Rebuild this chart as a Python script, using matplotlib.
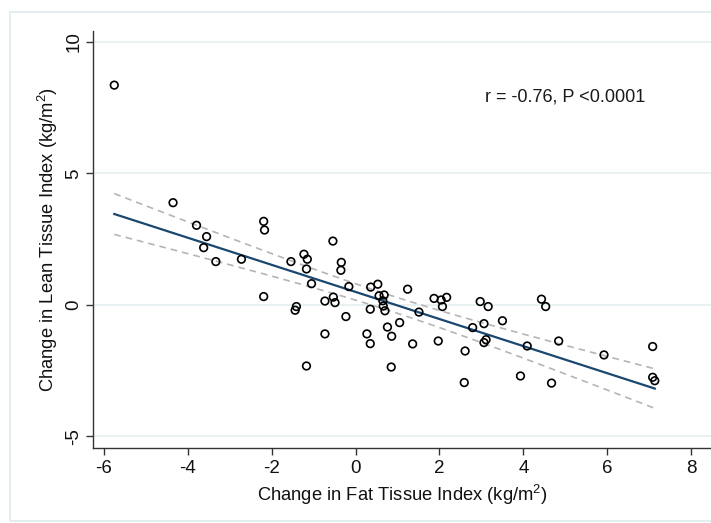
import numpy as np
import matplotlib
matplotlib.use("Agg")
import matplotlib.pyplot as plt
from matplotlib.patches import Rectangle

plt.rcParams['font.family'] = ['Liberation Sans', 'DejaVu Sans']
plt.rcParams['axes.unicode_minus'] = False
plt.rcParams['mathtext.fontset'] = 'custom'
plt.rcParams['mathtext.rm'] = 'Liberation Sans'
plt.rcParams['mathtext.default'] = 'rm'

# change in fat tissue index vs change in lean tissue index (kg/m2)
fat_change = [-5.75, -4.35, -3.79, -3.55, -3.62, -3.33, -2.72, -2.19, -2.17, -2.19,
              -1.54, -1.23, -1.15, -1.17, -1.05, -1.41, -1.44, -1.17, -0.54, -0.34,
              -0.35, -0.16, -0.73, -0.53, -0.49, -0.23, -0.73, 0.27, 0.35, 0.36,
              0.53, 0.35, 0.56, 0.68, 0.65, 0.66, 0.70, 0.76, 0.86, 0.85,
              1.05, 1.24, 1.51, 1.36, 1.87, 2.04, 2.17, 2.07, 1.97, 2.97,
              3.16, 2.79, 3.06, 3.50, 3.06, 3.11, 2.61, 2.59, 3.93, 4.43,
              4.53, 4.09, 4.84, 4.67, 5.92, 7.08, 7.08, 7.13]
lean_change = [8.36, 3.89, 3.03, 2.60, 2.18, 1.65, 1.74, 3.18, 2.85, 0.32,
               1.65, 1.93, 1.74, 1.37, 0.81, -0.06, -0.20, -2.32, 2.43, 1.62,
               1.32, 0.70, 0.15, 0.30, 0.09, -0.44, -1.10, -1.10, -1.47, 0.68,
               0.79, -0.16, 0.35, 0.38, 0.16, -0.04, -0.22, -0.84, -1.19, -2.36,
               -0.67, 0.60, -0.27, -1.48, 0.25, 0.19, 0.29, -0.06, -1.37, 0.13,
               -0.06, -0.86, -0.71, -0.60, -1.43, -1.32, -1.75, -2.95, -2.70, 0.22,
               -0.06, -1.56, -1.37, -2.97, -1.90, -1.58, -2.75, -2.88]
stat_text = "r = -0.76, P <0.0001"

x = np.array(fat_change)
y = np.array(lean_change)

# linear fit with 95% CI of the mean (like stata lfitci)
b, a = np.polyfit(x, y, 1)
n = len(x)
resid = y - (a + b * x)
s = np.sqrt(np.sum(resid ** 2) / (n - 2))
sxx = np.sum((x - x.mean()) ** 2)
xs = np.linspace(x.min(), x.max(), 100)
fit = a + b * xs
half = 1.997 * s * np.sqrt(1.0 / n + (xs - x.mean()) ** 2 / sxx)

fig = plt.figure(figsize=(7.11, 5.23), dpi=100)
fig.patches.append(Rectangle((10 / 711, 2 / 523), 1.0, 509 / 523, transform=fig.transFigure,
                             fill=False, edgecolor='#e4eef0', linewidth=1.5, zorder=0))
ax = fig.add_axes([93.3 / 711, 74.7 / 523, 1 - 93.3 / 711, 417.6 / 523])

gridc = '#e6eff1'
for yy in [-5, 0, 5, 10]:
    ax.axhline(yy, color=gridc, linewidth=1.2, zorder=0)

ax.plot(xs, fit + half, color='#b5b5b5', linewidth=1.2, dashes=(4, 3), zorder=2)
ax.plot(xs, fit - half, color='#b5b5b5', linewidth=1.2, dashes=(4, 3), zorder=2)
ax.plot(xs, fit, color='#1a476f', linewidth=1.6, zorder=3)
ax.scatter(x, y, s=30, facecolors='none', edgecolors='black', linewidths=1.2, zorder=4)

ax.text(3.08, 7.9, stat_text, fontsize=13.1, va='center', ha='left', color='#1a1a1a')

ax.set_xlim(-6.25, 8.47)
ax.set_ylim(-5.45, 10.43)
ax.set_xticks([-6, -4, -2, 0, 2, 4, 6, 8])
ax.set_yticks([-5, 0, 5, 10])
ax.set_yticklabels(['-5', '0', '5', '10'], rotation=90, va='center')

for sp in ['top', 'right']:
    ax.spines[sp].set_visible(False)
for sp in ['left', 'bottom']:
    ax.spines[sp].set_color('#333333')
    ax.spines[sp].set_linewidth(1.0)
ax.tick_params(direction='out', length=5, width=1.0, color='#333333', labelsize=13.5,
               labelcolor='#111111')
ax.tick_params(axis='y', pad=3)

ax.set_xlabel("Change in Fat Tissue Index (kg/m$^{2}$)", fontsize=13.2, color='#111111', labelpad=4)
ax.set_ylabel("Change in Lean Tissue Index (kg/m$^{2}$)", fontsize=13.2, color='#111111', labelpad=4)

fig.savefig("out.png", dpi=100)
